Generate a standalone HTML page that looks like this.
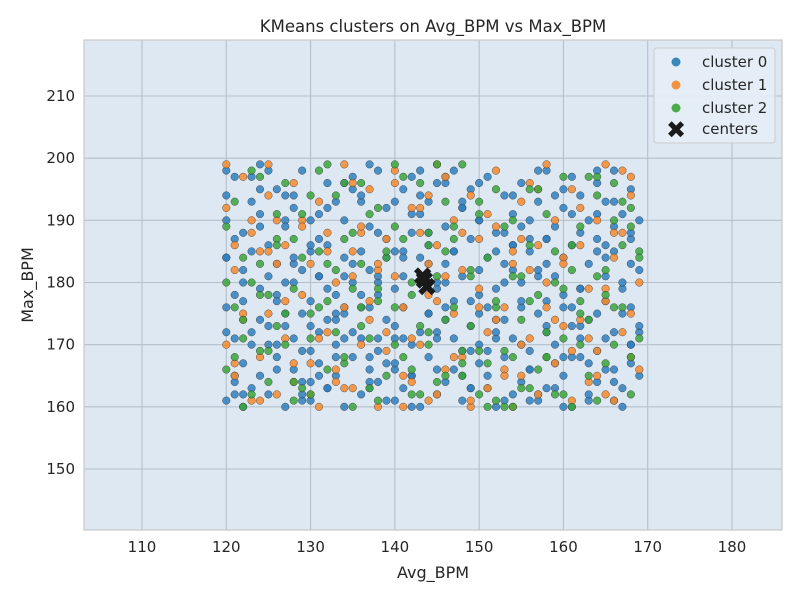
<!DOCTYPE html>
<html><head><meta charset="utf-8"><style>
body{margin:0;background:#fff;font-family:"Liberation Sans","DejaVu Sans",sans-serif}
</style></head><body>
<svg id="chart" width="800" height="600" xmlns="http://www.w3.org/2000/svg" font-family="DejaVu Sans, Liberation Sans, sans-serif">
<rect width="800" height="600" fill="#fff"/>
<rect x="84" y="40" width="698" height="490" fill="#dde8f3"/>
<g id="grid"></g>
<g id="pts"></g>
<rect x="84" y="40" width="698" height="490" fill="none" stroke="#c8c8c8" stroke-width="1.2"/>
<g id="ticks" font-size="15" fill="#262626"></g>
<text x="433" y="32" text-anchor="middle" font-size="16.5" fill="#262626">KMeans clusters on Avg_BPM vs Max_BPM</text>
<text x="433" y="578" text-anchor="middle" font-size="16" fill="#262626">Avg_BPM</text>
<text x="33" y="285" text-anchor="middle" font-size="16" fill="#262626" transform="rotate(-90 33 285)">Max_BPM</text>
<g>
<rect x="654" y="48" width="121" height="95" rx="3" fill="#e6eef6" fill-opacity="0.9" stroke="#ccc"/>
<circle cx="676" cy="62" r="4.5" fill="#3a87c0"/><text x="702" y="67" font-size="15" fill="#262626">cluster 0</text>
<circle cx="676" cy="85" r="4.5" fill="#f59240"/><text x="702" y="90" font-size="15" fill="#262626">cluster 1</text>
<circle cx="676" cy="108" r="4.5" fill="#4aac4a"/><text x="702" y="113" font-size="15" fill="#262626">cluster 2</text>
<text x="676" y="138" font-size="24" font-weight="bold" text-anchor="middle" fill="#1a1a1a">✖</text><text x="702" y="134" font-size="15" fill="#262626">centers</text>
</g>
</svg>
<script>
const xTicks=[110,120,130,140,150,160,170,180];
const yTicks=[150,160,170,180,190,200,210];
const c0x=[120,120,120,121,121,122,122,123,124,125,126,127,127,128,129,130,130,131,131,132,133,134,134,135,136,137,137,138,138,139,140,140,141,142,143,144,144,145,146,146,147,148,149,150,150,151,152,153,154,155,155,156,157,158,158,159,160,160,161,162,163,164,164,165,166,166,167,168,168,169,120,122,124,126,128,130,132,134,136,138,140,142,145,147,149,151,153,155,157,159,161,163,165,167,121,123,125,127,129,131,133,135,137,139,141,143,146,148,150,152,154,156,158,160,162,164,166,168,124,128,132,136,140,144,148,152,156,160,164,168,126,130,134,138,142,146,150,154,158,162,166,129,133,137,141,145,149,153,157,161,165];
const c0y=[198,190,172,187,162,182,177,170,195,181,166,194,175,183,161,190,173,187,165,179,168,196,171,183,176,199,163,188,180,167,193,173,185,160,194,175,188,166,197,180,171,192,163,196,178,169,185,161,194,176,189,166,198,173,183,163,195,178,168,188,161,198,175,184,166,193,160,187,176,172,184,162,189,170,194,185,163,176,193,181,166,191,172,185,177,163,188,170,181,194,176,167,186,179,165,197,173,190,169,181,175,195,164,184,171,198,176,165,190,174,182,161,187,168,179,191,164,183,199,180,192,178,161,183,193,171,187,160,185,170,178,164,181,171,165,196,175,186,177,173,189,162,174,168,184,179,169,180,162,191,171];
const c0xB=[120,120,120,120,121,121,121,121,122,122,122,122,123,123,123,123,124,124,124,124,125,125,125,125,126,126,126,126,127,127,127,127,128,128,128,128,129,129,129,129,130,130,130,130,131,131,131,131,132,132,132,132,133,133,133,133,134,134,134,134,135,135,135,135,136,136,136,136,137,137,137,137,138,138,138,138,139,139,139,139,140,140,140,140,141,141,141,141,142,142,142,142,143,143,143,143,144,144,144,144,145,145,145,145,146,146,146,146,147,147,147,147,148,148,148,148,149,149,149,149,150,150,150,150,151,151,151,151,152,152,152,152,153,153,153,153,154,154,154,154,155,155,155,155,156,156,156,156,157,157,157,157,158,158,158,158,159,159,159,159,160,160,160,160,161,161,161,161,162,162,162,162,163,163,163,163,164,164,164,164,165,165,165,165,166,166,166,166,167,167,167,167,168,168,168,168,169,169,169,169];
const c0yB=[161,176,184,194,164,171,178,197,167,180,188,160,163,172,185,193,165,174,179,191,162,170,186,198,168,177,183,195,160,173,180,189,166,171,184,192,164,175,182,198,161,169,177,186,167,172,181,191,163,174,186,196,165,170,178,193,160,175,184,190,168,172,180,197,162,171,185,194,166,176,182,189,164,169,178,198,161,174,187,192,167,171,179,185,163,176,181,195,165,170,188,197,160,172,184,191,168,175,186,193,162,171,180,196,164,174,183,189,166,177,185,198,161,169,181,192,163,173,187,195,167,170,182,190,165,176,184,197,160,172,179,188,168,174,183,194,162,171,186,191,164,177,180,196,166,169,185,190,161,175,182,193,163,172,187,198,167,170,181,189,165,176,184,192,160,173,186,197,168,171,179,194,162,174,183,190,164,169,187,196,166,177,181,193,161,172,185,198,163,175,180,191,167,170,188,195,165,173,182,190];
const c1x=[120,121,122,124,125,126,128,129,131,132,134,135,137,138,140,142,143,144,145,147,148,149,151,152,154,155,157,158,160,161,162,164,165,167,168,121,123,127,130,133,136,139,141,144,146,150,153,156,159,163,166,168,125,135,145,155,165];
const c1y=[199,186,175,161,194,183,167,190,171,185,163,196,177,182,196,164,192,178,199,168,188,160,191,174,183,165,195,180,184,169,192,165,162,198,168,167,190,177,162,164,188,172,160,194,181,176,166,196,174,171,188,197,185,181,162,187,179];
const c1xB=[120,120,121,121,122,122,123,123,124,124,125,125,126,126,127,127,128,128,129,129,130,130,131,131,132,132,133,133,134,134,135,135,136,136,137,137,138,138,139,139,140,140,141,141,142,142,143,143,144,144,145,145,146,146,147,147,148,148,149,149,150,150,151,151,152,152,153,153,154,154,155,155,156,156,157,157,158,158,159,159,160,160,161,161,162,162,163,163,164,164,165,165,166,166,167,167,168,168,169,169];
const c1yB=[170,192,182,165,197,174,161,188,185,168,175,199,162,190,186,171,196,164,178,189,167,183,193,160,172,188,180,166,199,176,163,185,189,170,174,195,160,183,187,169,181,198,165,176,192,171,170,188,161,183,186,177,197,166,175,190,168,182,194,161,179,187,163,172,189,198,176,165,160,185,193,170,171,182,186,162,199,176,167,190,183,173,195,161,174,186,164,179,190,169,177,199,161,184,188,172,175,194,166,180];
const c2x=[120,121,122,123,124,125,126,127,128,129,130,131,132,133,134,135,136,137,138,139,140,141,142,143,144,145,146,147,148,149,150,151,152,153,154,155,156,157,158,159,160,161,162,163,164,165,166,167,168,169,122,126,130,134,138,142,146,150,154,158,162,166,124,128,132,136,140,144,148,152,156,160,164,168];
const c2y=[180,168,160,198,183,169,191,175,187,163,194,176,199,182,167,188,173,191,161,184,170,197,178,162,186,199,174,189,165,181,193,160,176,189,168,181,163,195,172,180,162,186,170,197,161,182,176,193,168,185,174,187,171,196,179,166,185,169,160,168,177,190,178,164,183,176,189,172,167,161,177,179,197,189];
const c2xB=c1xB.slice();
const c2yB=[166,189,193,176,171,184,180,162,197,169,164,178,186,173,170,196,179,161,191,184,162,175,185,198,177,166,194,172,168,187,160,179,183,196,171,163,192,177,165,185,176,199,187,168,162,180,196,173,170,188,181,164,165,193,187,176,199,169,173,182,162,191,184,167,177,195,169,160,190,181,163,174,195,186,178,166,168,191,185,162,171,197,160,182,189,175,174,165,181,194,167,178,196,170,176,186,162,192,184,171];
const centX=[143.3,143.8,143.5];
const centY=[181,179.3,180.3];
const NS="http://www.w3.org/2000/svg";
const X=v=>142+(v-110)*8.4286, Y=v=>96+(210-v)*6.2167;
const grid=document.getElementById('grid'),tk=document.getElementById('ticks'),pts=document.getElementById('pts');
function mk(tag,at,p){const e=document.createElementNS(NS,tag);for(const k in at)e.setAttribute(k,at[k]);p.appendChild(e);return e;}
xTicks.forEach(t=>{const l=mk('line',{x1:X(t),x2:X(t),y1:40,y2:530,stroke:'#b4bfc9','stroke-width':1.1},grid);

const s=mk('text',{x:X(t),y:552,'text-anchor':'middle'},tk);s.textContent=t;
});
yTicks.forEach(t=>{const l=mk('line',{x1:84,x2:782,y1:Y(t),y2:Y(t),stroke:'#b4bfc9','stroke-width':1.1},grid);

const s=mk('text',{x:75,y:Y(t)+5,'text-anchor':'end'},tk);s.textContent=t;
});
function series(xs,ys,col,name){xs.forEach((x,i)=>{const c=mk('circle',{cx:X(x),cy:Y(ys[i]),r:3.8,fill:col,'fill-opacity':0.85,stroke:'#333','stroke-width':0.4},pts);
});}
series(c0x.concat(c0xB),c0y.concat(c0yB),'#2f7fbf','cluster-0-point');
series(c1x.concat(c1xB),c1y.concat(c1yB),'#f7892b','cluster-1-point');
series(c2x.concat(c2xB),c2y.concat(c2yB),'#3aa43a','cluster-2-point');
centX.forEach((x,i)=>{const t=mk('text',{x:X(x),y:Y(centY[i])+9,'text-anchor':'middle','font-size':26,'font-weight':'bold',fill:'#1a1a1a'},pts);t.textContent='✖';
});
</script>
</body></html>
